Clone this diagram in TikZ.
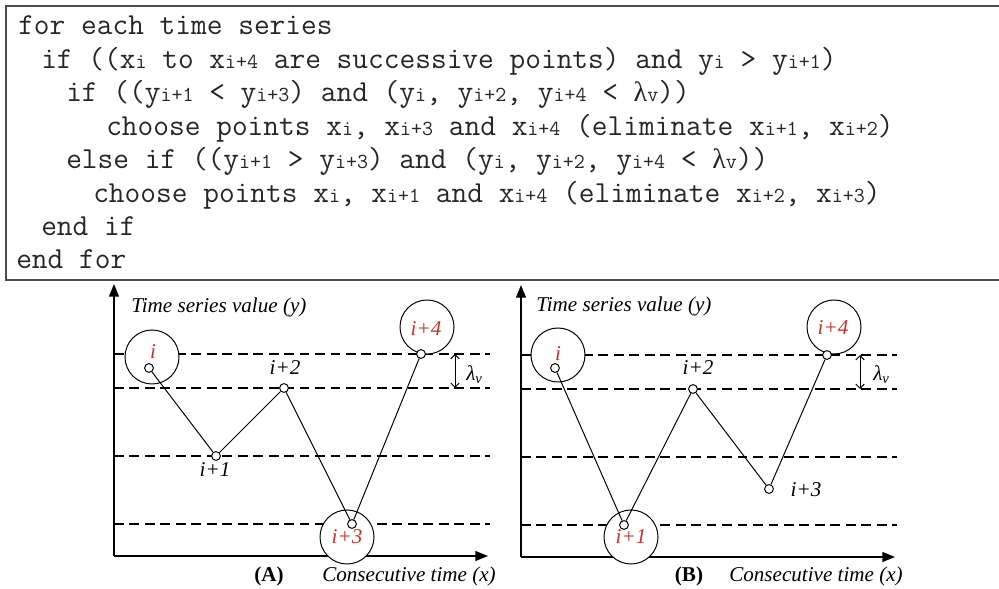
\documentclass[tikz,border=0pt]{standalone}
\usepackage{fontspec}
\usetikzlibrary{arrows.meta}
\newfontfamily\figfont{Liberation Serif}
\definecolor{ptred}{RGB}{205,45,45}
\newcommand{\sbs}[1]{{\fontsize{15.2pt}{15.2pt}\selectfont #1}}
\newcommand{\lam}{{\figfont\fontsize{20pt}{20pt}\selectfont λ}}

\begin{document}
\begin{tikzpicture}[x=0.025cm, y=0.025cm,
		code/.style={anchor=base west, inner sep=0pt, text=black!85, font=\ttfamily\fontsize{21.7pt}{24pt}\selectfont},
		axis/.style={line width=1.1pt, -{Triangle[length=9pt,width=7pt]}},
		level/.style={dash pattern=on 7pt off 4pt, line width=0.9pt},
		pick/.style={circle, draw, fill=white, line width=0.7pt, inner sep=0pt, minimum size=1.35cm},
		pt/.style={circle, draw, fill=white, line width=0.7pt, inner sep=0pt, minimum size=0.22cm},
		lab/.style={inner sep=0pt, font=\figfont\itshape\fontsize{15pt}{18pt}\selectfont},
		gap/.style={line width=0.7pt, {Straight Barb[length=3pt,width=6pt]}-{Straight Barb[length=3pt,width=6pt]}}]
		\useasboundingbox (0,0) rectangle (999,589);
		\draw[line width=1.4pt, black!70] (999,583) -| (6,309) -- (999,309);
		
		\node[code] (l1) at (18,554) {for each time series};
		\node[code] (l2) at (41,520.6) {if ((x\sbs{i} to x\sbs{i+4} are successive points) and y\sbs{i} > y\sbs{i+1})};
		\node[code] (l3) at (66,487.1) {if ((y\sbs{i+1} < y\sbs{i+3}) and (y\sbs{i}, y\sbs{i+2}, y\sbs{i+4} < \lam\sbs{v}))};
		\node[code] (l4) at (106,453.7) {choose points x\sbs{i}, x\sbs{i+3} and x\sbs{i+4} (eliminate x\sbs{i+1}, x\sbs{i+2})};
		\node[code] (l5) at (66,420.3) {else if ((y\sbs{i+1} > y\sbs{i+3}) and (y\sbs{i}, y\sbs{i+2}, y\sbs{i+4} < \lam\sbs{v}))};
		\node[code] (l6) at (93,386.9) {choose points x\sbs{i}, x\sbs{i+1} and x\sbs{i+4} (eliminate x\sbs{i+2}, x\sbs{i+3})};
		\node[code] (l7) at (41,353.4) {end if};
		\node[code] (l8) at (16,320) {end for};
		
		\begin{scope}[shift={(114,33)}]
			\coordinate (oa) at (0,0);
			\coordinate (ya) at (0,272);
			\coordinate (xa) at (374,0);
			\foreach \h in {202,168,100,32}
				\draw[level] (0,\h) -- (376,\h);
			\draw[axis] (oa) -- (ya);
			\draw[axis] (oa) -- (xa);
			\node[lab, anchor=base west] (ta) at (17,243) {Time series value (y)};
			
			\node[pick] (ca0) at (38,199) {};
			\node[pick] (ca3) at (233,19) {};
			\node[pick] (ca4) at (313,229) {};
			\node[lab, text=ptred] (ra0) at (39,204) {i};
			\node[lab, text=ptred] (ra3) at (233,19) {i+3};
			\node[lab, text=ptred] (ra4) at (312,227) {i+4};
			
			\node[pt] (a0) at (35,188) {};
			\node[pt] (a1) at (102,100) {};
			\node[pt] (a2) at (170,168) {};
			\node[pt] (a3) at (238,32) {};
			\node[pt] (a4) at (307,202) {};
			\draw[line width=0.7pt] (a0) -- (a1) -- (a2) -- (a3) -- (a4);
			\node[lab] (la1) at (101,86) {i+1};
			\node[lab] (la2) at (171,188) {i+2};
			
			\coordinate (ga) at (341,202);
			\coordinate (gb) at (341,168);
			\draw[gap] (ga) -- (gb);
			\node[lab, anchor=west] (lama) at (352,181) {λ\textsubscript{v}};
			
			\node[lab, font=\figfont\bfseries\fontsize{15pt}{18pt}\selectfont, anchor=base] (capa) at (155,-26) {(A)};
			\node[lab, anchor=base west] (xla) at (208,-26) {Consecutive time (x)};
		\end{scope}
		
		\begin{scope}[shift={(521,32)}]
			\coordinate (ob) at (0,0);
			\coordinate (yb) at (0,272);
			\coordinate (xb) at (374,0);
			\foreach \h in {202,168,100,32}
				\draw[level] (0,\h) -- (376,\h);
			\draw[axis] (ob) -- (yb);
			\draw[axis] (ob) -- (xb);
			\node[lab, anchor=base west] (tb) at (15,245) {Time series value (y)};
			
			\node[pick] (cb0) at (37,202) {};
			\node[pick] (cb1) at (110,20) {};
			\node[pick] (cb4) at (313,230) {};
			\node[lab, text=ptred] (rb0) at (37,203) {i};
			\node[lab, text=ptred] (rb1) at (110,20) {i+1};
			\node[lab, text=ptred] (rb4) at (312,229) {i+4};
			
			\node[pt] (b0) at (34,189) {};
			\node[pt] (b1) at (103,32) {};
			\node[pt] (b2) at (172,168) {};
			\node[pt] (b3) at (248,68) {};
			\node[pt] (b4) at (306,202) {};
			\draw[line width=0.7pt] (b0) -- (b1) -- (b2) -- (b3) -- (b4);
			\node[lab] (lb2) at (177,189) {i+2};
			\node[lab] (lb3) at (285,67) {i+3};
			
			\coordinate (gc) at (339,202);
			\coordinate (gd) at (339,168);
			\draw[gap] (gc) -- (gd);
			\node[lab, anchor=west] (lamb) at (352,182) {λ\textsubscript{v}};
			
			\node[lab, font=\figfont\bfseries\fontsize{15pt}{18pt}\selectfont, anchor=base] (capb) at (168,-25) {(B)};
			\node[lab, anchor=base west] (xlb) at (208,-25) {Consecutive time (x)};
		\end{scope}
	\end{tikzpicture}
\end{document}
